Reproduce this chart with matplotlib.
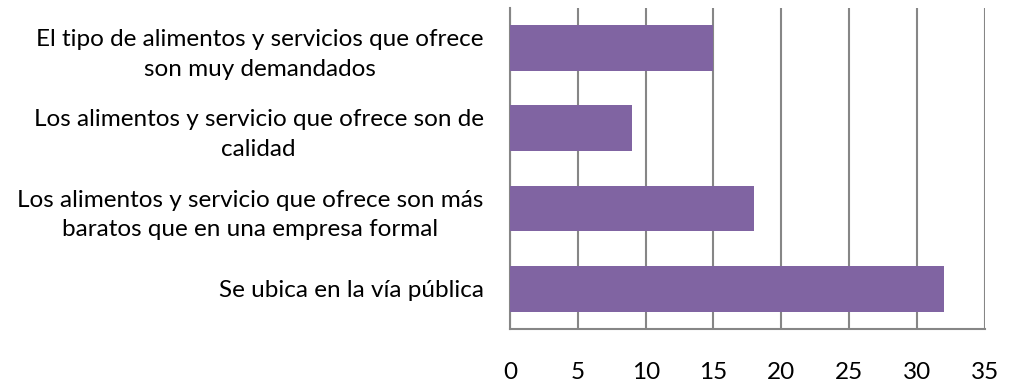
import matplotlib
matplotlib.use("Agg")
import matplotlib.pyplot as plt

# survey reasons, top to bottom as shown
categories = [
    "El tipo de alimentos y servicios que ofrece\nson muy demandados",
    "Los alimentos y servicio que ofrece son de\ncalidad",
    "Los alimentos y servicio que ofrece son más\nbaratos que en una empresa formal",
    "Se ubica en la vía pública",
]
values = [15, 9, 18, 32]
xticks = [0, 5, 10, 15, 20, 25, 30, 35]

plt.rcParams["font.family"] = ["Lato", "DejaVu Sans"]

fig = plt.figure(figsize=(10.1, 3.85), dpi=100)
ax = fig.add_axes([0.505, 0.1455, 0.47, 0.834])

ypos = list(range(len(categories)))
ax.barh(ypos, values, height=0.57, color="#8064A2", zorder=3)
ax.set_ylim(len(categories) - 0.5, -0.5)
ax.set_xlim(0, 35)
ax.set_xticks(xticks)
ax.set_yticks(ypos)
ax.set_yticklabels(categories, fontsize=17.5, ha="right", multialignment="center",
                   linespacing=1.5)
ax.tick_params(axis="x", labelsize=17.5, length=0, pad=24)
ax.tick_params(axis="y", length=0, pad=19)

ax.grid(axis="x", color="#868686", linewidth=1.5, zorder=0)
for side in ["top", "right"]:
    ax.spines[side].set_visible(False)
for side in ["left", "bottom"]:
    ax.spines[side].set_color("#868686")
    ax.spines[side].set_linewidth(1.5)

fig.savefig("out.png", dpi=100)
